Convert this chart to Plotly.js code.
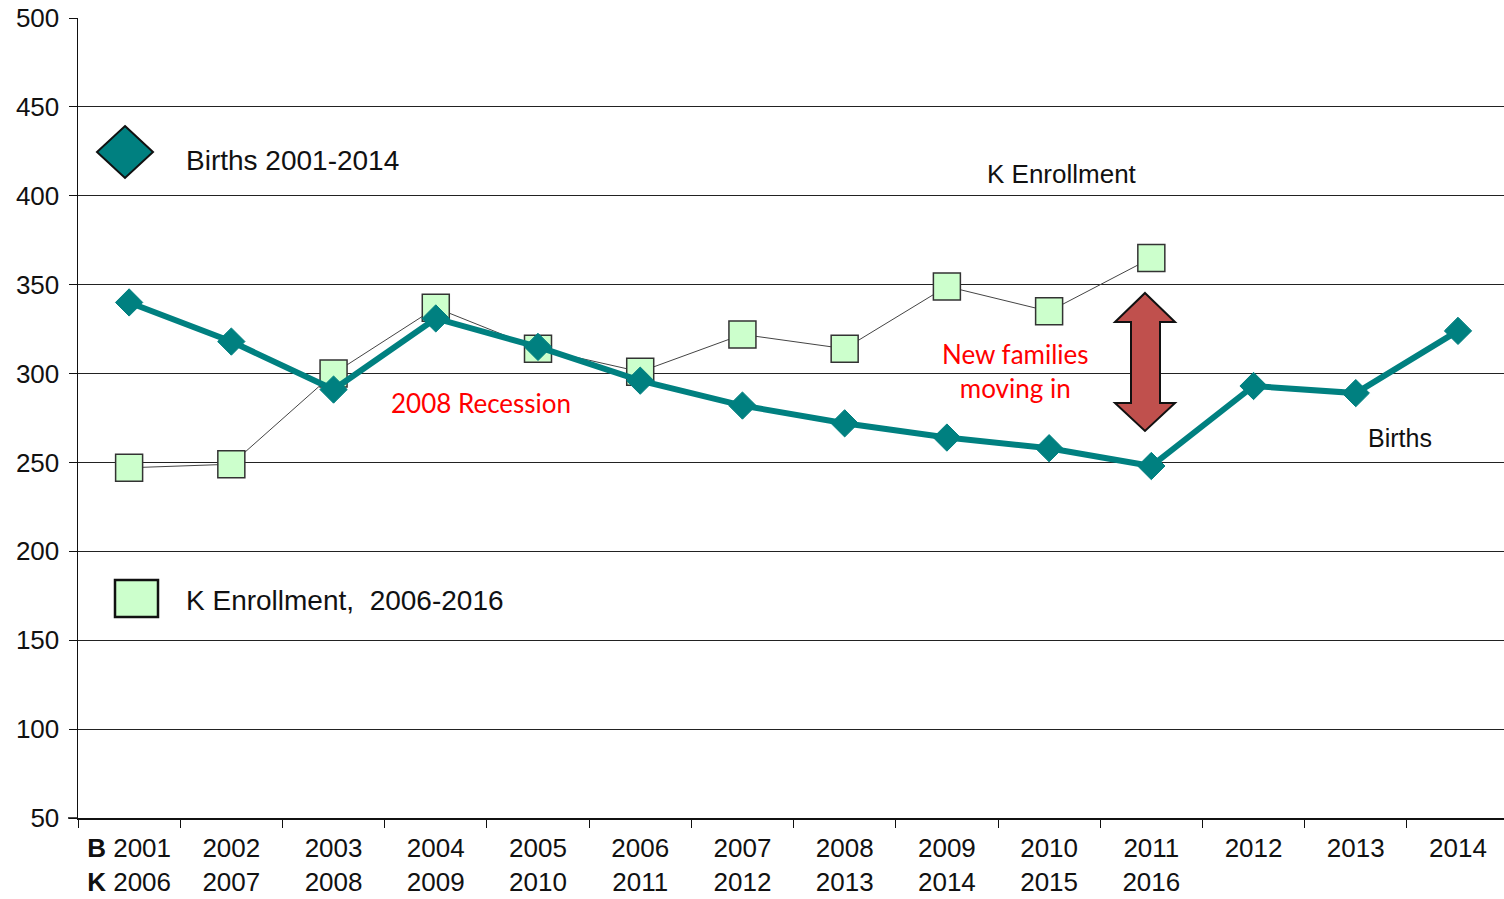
<!DOCTYPE html>
<html>
<head>
<meta charset="utf-8">
<script src="https://cdn.plot.ly/plotly-3.0.1.min.js"></script>
<style>html,body{margin:0;padding:0;background:#fff;}#chart{width:1504px;height:899px;}</style>
</head>
<body>
<div id="chart"></div>
<script>
const categories = ["2001","2002","2003","2004","2005","2006","2007","2008","2009","2010","2011","2012","2013","2014"];
const kYears = ["2006","2007","2008","2009","2010","2011","2012","2013","2014","2015","2016"];
const births = [340, 318, 291, 331, 315, 296, 282, 272, 264, 258, 248, 293, 289, 324];
const kEnrollment = [247, 249, 300, 337, 314, 301, 322, 314, 349, 335, 365];

const tickLabels = categories.map((c, i) => {
  const k = i < kYears.length ? kYears[i] : "";
  if (i === 0) return "<b>B</b> " + c + "<br><b>K</b> " + k;
  return c + "<br>" + k;
});

const L = 78, R = 1504, T = 18, B = 818;
const px = x => (x - L) / (R - L);
const py = y => (B - y) / (B - T);

const traces = [
  {
    x: categories.slice(0, kEnrollment.length),
    y: kEnrollment,
    type: "scatter",
    mode: "lines+markers",
    name: "K Enrollment, 2006-2016",
    line: {color: "#444444", width: 1},
    marker: {symbol: "square", size: 27, color: "#CCFFCC", line: {color: "#333333", width: 1.5}}
  },
  {
    x: categories,
    y: births,
    type: "scatter",
    mode: "lines+markers",
    name: "Births 2001-2014",
    line: {color: "#008080", width: 6},
    marker: {symbol: "diamond", size: 21, color: "#008080", line: {color: "#008080", width: 1}}
  }
];

const dcx = 125, dcy = 152, dw = 28, dh = 26;
const diamondPath = `M ${px(dcx)} ${py(dcy - dh)} L ${px(dcx + dw)} ${py(dcy)} L ${px(dcx)} ${py(dcy + dh)} L ${px(dcx - dw)} ${py(dcy)} Z`;

const ax = 1145;
const arrowPts = [
  [ax, 293], [ax + 30, 322], [ax + 15, 322], [ax + 15, 403], [ax + 30, 403],
  [ax, 431], [ax - 30, 403], [ax - 14, 403], [ax - 14, 322], [ax - 30, 322]
];
const arrowPath = "M " + arrowPts.map(p => px(p[0]) + " " + py(p[1])).join(" L ") + " Z";

const shapes = [
  {type: "line", xref: "paper", yref: "paper", x0: px(68), x1: px(78), y0: 0, y1: 0, line: {color: "#111", width: 1.5}},
  {type: "path", xref: "paper", yref: "paper", path: diamondPath, fillcolor: "#008080", line: {color: "#111111", width: 2}},
  {type: "rect", xref: "paper", yref: "paper", x0: px(115), x1: px(158), y0: py(617), y1: py(580), fillcolor: "#CCFFCC", line: {color: "#111111", width: 2.5}},
  {type: "path", xref: "paper", yref: "paper", path: arrowPath, fillcolor: "#C0504D", line: {color: "#111111", width: 2}}
];

const baseFont = "Liberation Sans, Arial, sans-serif";
const redFont = "Lato, Open Sans, sans-serif";
const annotations = [
  {xref: "paper", yref: "paper", x: px(184), y: py(160), xanchor: "left", yanchor: "middle", text: "Births 2001-2014", showarrow: false, font: {family: baseFont, size: 28, color: "#111"}},
  {xref: "paper", yref: "paper", x: px(184), y: py(600), xanchor: "left", yanchor: "middle", text: "K Enrollment,  2006-2016", showarrow: false, font: {family: baseFont, size: 28, color: "#111"}},
  {xref: "paper", yref: "paper", x: px(1062), y: py(174), xanchor: "center", yanchor: "middle", text: "K Enrollment", showarrow: false, font: {family: baseFont, size: 26, color: "#111"}},
  {xref: "paper", yref: "paper", x: px(1400), y: py(438), xanchor: "center", yanchor: "middle", text: "Births", showarrow: false, font: {family: baseFont, size: 25, color: "#111"}},
  {xref: "paper", yref: "paper", x: px(481), y: py(403), xanchor: "center", yanchor: "middle", text: "2008 Recession", showarrow: false, font: {family: redFont, size: 26, color: "#FF0000"}},
  {xref: "paper", yref: "paper", x: px(1015), y: py(371), xanchor: "center", yanchor: "middle", text: "New families<br>moving in", showarrow: false, font: {family: redFont, size: 26, color: "#FF0000"}}
];

const layout = {
  width: 1504,
  height: 899,
  margin: {l: L, r: 1504 - R, t: T, b: 899 - B},
  paper_bgcolor: "#ffffff",
  plot_bgcolor: "#ffffff",
  showlegend: false,
  font: {family: baseFont, color: "#111"},
  xaxis: {
    type: "category",
    categoryorder: "array",
    categoryarray: categories,
    range: [-0.5, 13.45],
    tickmode: "array",
    tickvals: categories,
    ticktext: tickLabels,
    tickson: "boundaries",
    ticks: "outside",
    ticklen: 8,
    tickcolor: "#111",
    ticklabelstandoff: 6,
    tickfont: {family: baseFont, size: 26, color: "#111"},
    showgrid: false,
    showline: true,
    linecolor: "#111",
    linewidth: 1.5,
    zeroline: false,
    fixedrange: true
  },
  yaxis: {
    range: [50, 500],
    dtick: 50,
    tick0: 50,
    ticks: "outside",
    ticklen: 8,
    tickcolor: "#111",
    ticklabelstandoff: 4,
    tickfont: {family: baseFont, size: 26, color: "#111"},
    showgrid: true,
    gridcolor: "#222",
    gridwidth: 1,
    showline: true,
    linecolor: "#111",
    linewidth: 1.5,
    zeroline: false,
    fixedrange: true
  },
  shapes: shapes,
  annotations: annotations
};

Plotly.newPlot("chart", traces, layout, {displayModeBar: false, staticPlot: true});
</script>
</body>
</html>
